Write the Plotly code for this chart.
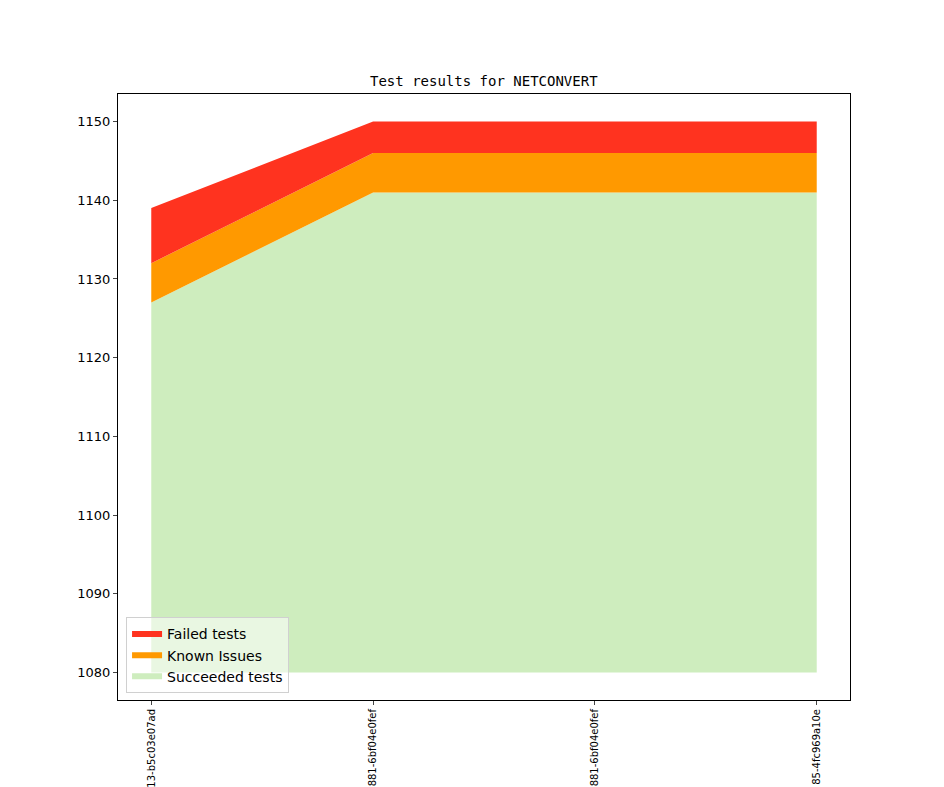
import plotly.graph_objects as go
import numpy as np

# revisions (only the visible tail of each label is readable)
revisions = ["13-b5c03e07ad", "881-6bf04e0fef", "881-6bf04e0fef", "85-4fc969a10e"]
baseline = 1080
succeeded = [47, 61, 61, 61]   # above the 1080 baseline -> 1127, 1141, ...
known_issues = [5, 5, 5, 5]
failed = [7, 4, 4, 4]

x = list(range(len(revisions)))
base = np.full(len(x), baseline)
top_succ = base + np.array(succeeded)
top_known = top_succ + np.array(known_issues)
top_failed = top_known + np.array(failed)

fig = go.Figure()
fig.add_trace(go.Scatter(x=x, y=base, mode="lines", line=dict(width=0),
                         showlegend=False, hoverinfo="skip"))
fig.add_trace(go.Scatter(x=x, y=top_succ, mode="none", fill="tonexty",
                         fillcolor="#ceedbe", name="Succeeded tests"))
fig.add_trace(go.Scatter(x=x, y=top_known, mode="none", fill="tonexty",
                         fillcolor="#ff9900", name="Known Issues"))
fig.add_trace(go.Scatter(x=x, y=top_failed, mode="none", fill="tonexty",
                         fillcolor="#ff331f", name="Failed tests"))

# page body has an 8px margin, so margins are shifted to land the axes at 118..850 / 94..700
fig.update_layout(
    width=944, height=787,
    margin=dict(l=110, r=102, t=86, b=95, autoexpand=False),
    paper_bgcolor="white", plot_bgcolor="white",
    font=dict(family="DejaVu Sans", size=13, color="black"),
    title=dict(text="Test results for NETCONVERT", x=0.504, xanchor="center",
               y=0.907, yanchor="middle",
               font=dict(family="DejaVu Sans Mono", size=14)),
    legend=dict(x=0.011, y=0.011, xanchor="left", yanchor="bottom",
                traceorder="reversed", bgcolor="rgba(255,255,255,0.55)",
                bordercolor="#d0d0d0", borderwidth=1,
                font=dict(family="DejaVu Sans", size=14)),
    showlegend=True,
)
fig.update_xaxes(range=[-0.15, 3.15], tickvals=x, ticktext=revisions,
                 tickangle=-90, tickfont=dict(size=10),
                 showline=True, linecolor="black", linewidth=1, mirror=True,
                 ticks="outside", ticklen=4, showgrid=False, zeroline=False,
                 automargin=False)
fig.update_yaxes(range=[1076.5, 1153.5], dtick=10,
                 showline=True, linecolor="black", linewidth=1, mirror=True,
                 ticks="outside", ticklen=4, showgrid=False, zeroline=False,
                 automargin=False)

fig.write_html("out.html")
